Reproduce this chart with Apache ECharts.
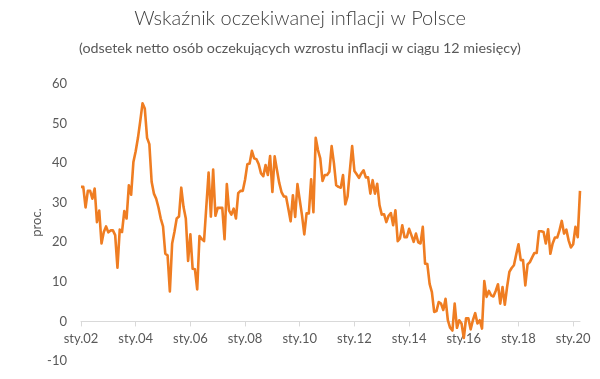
<!DOCTYPE html>
<html>
<head>
<meta charset="utf-8">
<script src="https://cdn.jsdelivr.net/npm/echarts@6/dist/echarts.min.js"></script>
<style>html,body{margin:0;padding:0;background:#fff}#c{width:600px;height:379px}</style>
</head>
<body>
<div id="c"></div>
<script>
var monthNames = ['sty','lut','mar','kwi','maj','cze','lip','sie','wrz','paź','lis','gru'];
var years = ['02','03','04','05','06','07','08','09','10','11','12','13','14','15','16','17','18','19','20'];
var values = [
  34, 34, 28.8, 33, 33, 31, 33.6, 25.1, 28, 19.7, 22.6, 24,
  22.5, 23, 23, 21.8, 13.6, 23.2, 22.6, 27.9, 26, 34.4, 32, 40.3,
  43, 46.4, 50.6, 55.1, 53.8, 46.4, 44.8, 35.3, 32.3, 31, 28.8, 26,
  24, 17.1, 16.7, 7.6, 19.7, 22.6, 26, 26.5, 33.8, 28.9, 26, 15.3,
  22, 13.3, 13.2, 8.1, 21.6, 20.8, 20.3, 29, 37.6, 26.5, 38.4, 26.7,
  28.7, 28.7, 28.7, 20.8, 34.7, 28, 27, 28.5, 26, 32.4, 33, 33,
  35.8, 39.7, 39.9, 43.1, 41.2, 41, 39.7, 37.4, 36.7, 39.5, 37, 41.8,
  32.7, 41.7, 38.3, 35, 32.7, 31.6, 31.5, 28.5, 25.3, 31.9, 26.4, 34.7,
  30.7, 26.8, 22, 27.3, 27.3, 35.9, 27.6, 46.4, 43.3, 41.2, 35.5, 37,
  37, 37.8, 44.3, 40, 34.4, 34, 33.8, 37, 29.6, 31.6, 38.2, 44.3,
  38, 37.2, 36.3, 37.4, 38.2, 36.4, 36.4, 32.3, 35.7, 32.3, 34.8, 29.4,
  27, 27.1, 25.1, 26.7, 27.4, 24.3, 28.1, 20.3, 21, 24.3, 21.3, 21.3,
  23.4, 21.8, 20.1, 22.2, 20, 19.7, 23.9, 14.6, 14.5, 9.5, 7.4, 2.4,
  2.6, 4.9, 4.5, 2.9, 5.7, 0.3, -1.6, -2.3, 4.5, -1.6, 0.3, -0.5,
  -4.2, 0.8, 0.8, -2, 0.3, 2.1, -0.5, 0.3, -1.8, 10.2, 6.2, 7.7,
  6.6, 6.3, 7.7, 9.4, 4.5, 8.7, 4.2, 8.7, 12.5, 13.5, 14.2, 16.9,
  19.5, 15.5, 15.5, 9.1, 14.4, 15, 16.2, 17.3, 17.3, 22.8, 22.8, 22.6,
  19.7, 23.3, 17.1, 19.7, 21.2, 21.2, 23, 25.4, 22.2, 23.2, 20.5, 18.7,
  19.5, 23.9, 21.3, 33
];
var titleText = 'Wskaźnik oczekiwanej inflacji w Polsce';
var subtitleText = '(odsetek netto osób oczekujących wzrostu inflacji w ciągu 12 miesięcy)';
var yAxisName = 'proc.';

var categories = [];
for (var i = 0; i < values.length; i++) {
  categories.push(monthNames[i % 12] + '.' + years[Math.floor(i / 12)]);
}

var gridTop = 84, gridBottom = 18, chartH = 379;
var plotH = chartH - gridTop - gridBottom;
var zeroOffset = -plotH * 10 / 70; // axis sits at value 0 (range -10..60)

var chart = echarts.init(document.getElementById('c'), null, {renderer: 'canvas'});
chart.setOption({
  animation: false,
  backgroundColor: '#ffffff',
  textStyle: {fontFamily: 'Lato'},
  title: {
    text: titleText,
    subtext: subtitleText,
    left: 'center',
    top: 4,
    itemGap: 12,
    textStyle: {fontFamily: 'Lato', fontSize: 20, fontWeight: 300, color: '#404040'},
    subtextStyle: {fontFamily: 'Lato', fontSize: 14.3, color: '#595959'}
  },
  grid: {left: 81, right: 20, top: gridTop, bottom: gridBottom, containLabel: false, outerBoundsMode: 'none'},
  xAxis: {
    type: 'category',
    data: categories,
    boundaryGap: false,
    position: 'bottom',
    offset: zeroOffset,
    axisLine: {onZero: false, lineStyle: {color: '#d9d9d9', width: 1}},
    axisTick: {show: true, interval: 23, length: 5, lineStyle: {color: '#d9d9d9'}},
    axisLabel: {interval: 23, color: '#595959', fontSize: 13, fontFamily: 'Lato', margin: 11},
    splitLine: {show: false}
  },
  yAxis: {
    type: 'value',
    min: -10,
    max: 60,
    interval: 10,
    name: yAxisName,
    nameLocation: 'middle',
    nameGap: 38,
    nameMoveOverlap: false,
    nameTextStyle: {color: '#595959', fontSize: 13, fontFamily: 'Lato'},
    axisLine: {show: false},
    axisTick: {show: false},
    splitLine: {show: false},
    axisLabel: {color: '#595959', fontSize: 13, fontFamily: 'Lato', margin: 14}
  },
  series: [{
    type: 'line',
    data: values,
    showSymbol: false,
    symbol: 'none',
    lineStyle: {color: '#EF7D22', width: 2.6, join: 'round'},
    itemStyle: {color: '#EF7D22'}
  }]
});
</script>
</body>
</html>
